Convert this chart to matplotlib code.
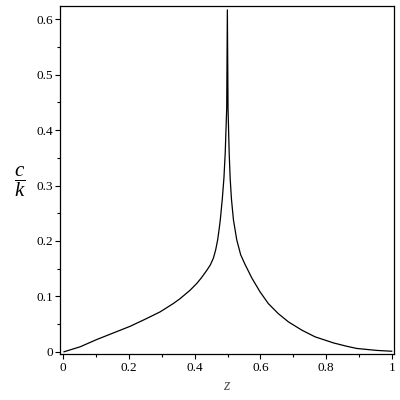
import numpy as np
import matplotlib.pyplot as plt

plt.rcParams['font.family'] = 'Liberation Serif'
plt.rcParams['mathtext.fontset'] = 'custom'
plt.rcParams['mathtext.it'] = 'Liberation Serif:italic'
plt.rcParams['mathtext.rm'] = 'Liberation Serif'

# values
z = [0.003, 0.052, 0.102, 0.153, 0.204, 0.254, 0.295, 0.335, 0.356, 0.386,
     0.406, 0.420, 0.437, 0.448, 0.457, 0.464, 0.470, 0.474, 0.478, 0.484,
     0.489, 0.493, 0.4975, 0.4995,
     0.5015, 0.505, 0.508, 0.512, 0.518, 0.528, 0.540, 0.553, 0.574, 0.599,
     0.624, 0.654, 0.685, 0.726, 0.766, 0.822, 0.862, 0.893, 0.953, 0.999]
ck = [0.000, 0.009, 0.022, 0.034, 0.046, 0.060, 0.072, 0.087, 0.096, 0.111,
      0.123, 0.133, 0.147, 0.157, 0.169, 0.184, 0.202, 0.219, 0.238, 0.275,
      0.313, 0.359, 0.440, 0.617,
      0.440, 0.359, 0.313, 0.275, 0.238, 0.202, 0.175, 0.158, 0.133, 0.108,
      0.087, 0.069, 0.054, 0.039, 0.027, 0.016, 0.010, 0.006, 0.0025, 0.001]

fig = plt.figure(figsize=(4, 4), dpi=100)
ax = fig.add_axes([0.151, 0.115, 0.834, 0.870])
ax.plot(z, ck, color='black', lw=0.9)

ax.set_xlim(-0.008, 1.006)
ax.set_ylim(-0.004, 0.624)
ax.set_xticks([0, 0.2, 0.4, 0.6, 0.8, 1])
ax.set_xticklabels(['0', '0.2', '0.4', '0.6', '0.8', '1'])
ax.set_xticks(np.arange(0.1, 1.0, 0.2), minor=True)
ax.set_yticks([0, 0.1, 0.2, 0.3, 0.4, 0.5, 0.6])
ax.set_yticklabels(['0', '0.1', '0.2', '0.3', '0.4', '0.5', '0.6'])
ax.set_yticks(np.arange(0.05, 0.6, 0.1), minor=True)
ax.tick_params(which='major', direction='out', length=3.5, width=0.8, labelsize=9.5, pad=2)
ax.tick_params(which='minor', direction='out', length=2.5, width=0.8)
for s in ax.spines.values():
    s.set_linewidth(0.9)

ax.set_xlabel('$z$', fontsize=12, color='#555555', labelpad=3)
fig.text(0.05, 0.545, r'$\dfrac{c}{k}$', fontsize=15, ha='center', va='center')

plt.savefig('out.png', dpi=100)
